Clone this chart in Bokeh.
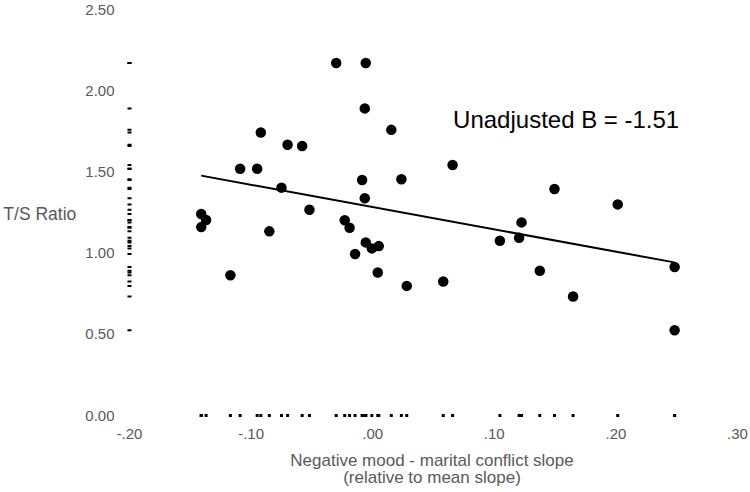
from bokeh.plotting import figure
from bokeh.models import FixedTicker, CustomJSTickFormatter, Range1d, Label
from bokeh.embed import file_html
from bokeh.resources import INLINE

# ---- data ----
slope = [-0.141, -0.137, -0.141, -0.117, -0.109, -0.095, -0.092, -0.085, -0.075, -0.070,
         -0.058, -0.052, -0.030, -0.023, -0.019, -0.0145, -0.0087, -0.0065, -0.0065, -0.0057,
         -0.0057, -0.0007, 0.005, 0.0042, 0.0153, 0.0236, 0.028, 0.058, 0.0657, 0.1046,
         0.1204, 0.1224, 0.1374, 0.1495, 0.1648, 0.2015, 0.2483, 0.2483]
ts_ratio = [1.241, 1.204, 1.160, 0.864, 1.519, 1.519, 1.743, 1.134, 1.403, 1.667,
            1.660, 1.267, 2.171, 1.202, 1.156, 0.994, 1.450, 1.338, 1.891, 2.171,
            1.066, 1.029, 1.043, 0.881, 1.759, 1.455, 0.798, 0.825, 1.543, 1.076,
            1.094, 1.189, 0.891, 1.395, 0.733, 1.300, 0.914, 0.525]

fit_x = [-0.141, 0.248]
fit_y = [1.477, 0.943]

x_ticks = [-0.2, -0.1, 0.0, 0.1, 0.2, 0.3]
x_tick_labels = ["-.20", "-.10", ".00", ".10", ".20", ".30"]
y_ticks = [0.0, 0.5, 1.0, 1.5, 2.0, 2.5]
y_tick_labels = ["0.00", "0.50", "1.00", "1.50", "2.00", "2.50"]

rug_x_pos = -0.2
rug_y_pos = 0.0

annotation_text = "Unadjusted B = -1.51"
x_title = "Negative mood - marital conflict slope\n(relative to mean slope)"
y_title = "T/S Ratio"

FONT = "Liberation Sans"
GRAY = "#595959"

p = figure(width=750, height=490, output_backend="svg", toolbar_location=None,
           x_range=Range1d(-0.2041, 0.30164), y_range=Range1d(-0.0246, 2.5062),
           min_border_left=122, min_border_right=11, min_border_top=8, min_border_bottom=71)
p.outline_line_color = None
p.grid.grid_line_color = None
p.background_fill_color = "white"
p.border_fill_color = "white"

fmt_code = """
let best = 0;
for (let i = 0; i < vals.length; i++) {
  if (Math.abs(vals[i] - tick) < Math.abs(vals[best] - tick)) best = i;
}
return labs[best];
"""
p.xaxis.ticker = FixedTicker(ticks=x_ticks)
p.xaxis.formatter = CustomJSTickFormatter(args=dict(vals=x_ticks, labs=x_tick_labels), code=fmt_code)
p.yaxis.ticker = FixedTicker(ticks=y_ticks)
p.yaxis.formatter = CustomJSTickFormatter(args=dict(vals=y_ticks, labs=y_tick_labels), code=fmt_code)

for ax in (p.xaxis, p.yaxis):
    ax.axis_line_color = None
    ax.major_tick_line_color = None
    ax.minor_tick_line_color = None
    ax.major_tick_out = 0
    ax.major_tick_in = 0
    ax.major_label_text_font = FONT
    ax.major_label_text_font_size = "15px"
    ax.major_label_text_color = GRAY

p.yaxis.major_label_standoff = 10
p.xaxis.major_label_standoff = 9

p.xaxis.axis_label = x_title
p.xaxis.axis_label_text_font = FONT
p.xaxis.axis_label_text_font_size = "17px"
p.xaxis.axis_label_text_font_style = "normal"
p.xaxis.axis_label_text_color = GRAY
p.xaxis.axis_label_standoff = 9
p.xaxis.axis_label_text_line_height = 0.9

# horizontal y title
yax = p.yaxis[0]
if "axis_label_orientation" in yax.properties():
    yax.axis_label = y_title
    yax.axis_label_orientation = "horizontal"
    yax.axis_label_text_font = FONT
    yax.axis_label_text_font_size = "17.5px"
    yax.axis_label_text_font_style = "normal"
    yax.axis_label_text_color = GRAY
    yax.axis_label_standoff = 6
else:
    p.add_layout(Label(x=4, y=1.247, x_units="screen", text=y_title, text_font=FONT,
                       text_font_size="17.5px", text_color=GRAY, text_align="left",
                       text_baseline="middle"))

# rug marks
p.rect(x=[rug_x_pos] * len(ts_ratio), y=ts_ratio, width=4, height=2,
       width_units="screen", height_units="screen", color="black", line_color=None)
p.rect(x=slope, y=[rug_y_pos] * len(slope), width=3, height=3,
       width_units="screen", height_units="screen", color="black", line_color=None)

# fit line
p.line(fit_x, fit_y, line_color="black", line_width=2)

# points
p.scatter(slope, ts_ratio, size=10.5, color="black", line_color=None)

p.add_layout(Label(x=0.0661, y=1.825, text=annotation_text, text_font=FONT, text_font_size="24px",
                   text_color="black", text_align="left", text_baseline="alphabetic"))

open("out.html", "w").write(file_html(p, INLINE))
